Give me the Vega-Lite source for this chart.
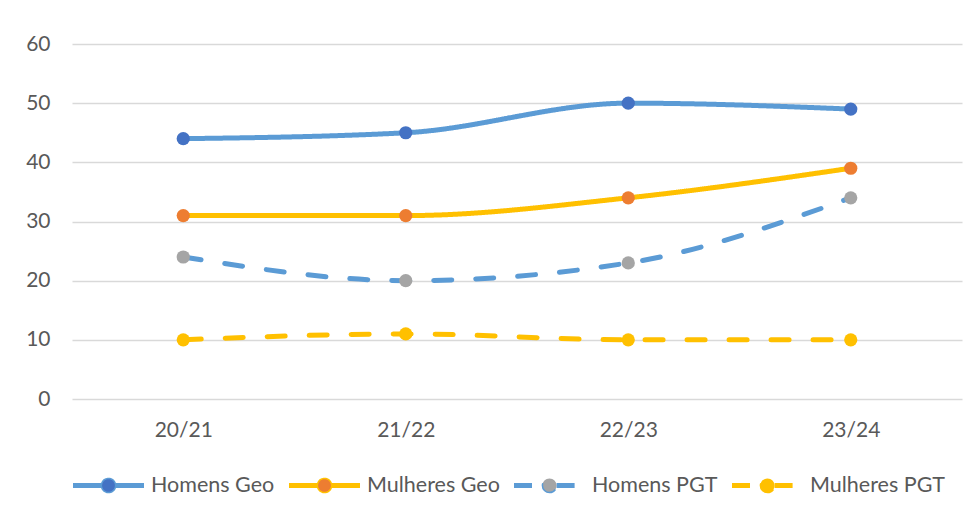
{
  "$schema": "https://vega.github.io/schema/vega-lite/v6.json",
  "autosize": {"type": "none"},
  "padding": {"left": 72, "top": 44, "right": 15, "bottom": 114},
  "width": 890,
  "height": 355,
  "background": "white",
  "data": {
    "values": [
      {"period": "20/21", "series": "Homens Geo", "value": 44},
      {"period": "21/22", "series": "Homens Geo", "value": 45},
      {"period": "22/23", "series": "Homens Geo", "value": 50},
      {"period": "23/24", "series": "Homens Geo", "value": 49},
      {"period": "20/21", "series": "Mulheres Geo", "value": 31},
      {"period": "21/22", "series": "Mulheres Geo", "value": 31},
      {"period": "22/23", "series": "Mulheres Geo", "value": 34},
      {"period": "23/24", "series": "Mulheres Geo", "value": 39},
      {"period": "20/21", "series": "Homens PGT", "value": 24},
      {"period": "21/22", "series": "Homens PGT", "value": 20},
      {"period": "22/23", "series": "Homens PGT", "value": 23},
      {"period": "23/24", "series": "Homens PGT", "value": 34},
      {"period": "20/21", "series": "Mulheres PGT", "value": 10},
      {"period": "21/22", "series": "Mulheres PGT", "value": 11},
      {"period": "22/23", "series": "Mulheres PGT", "value": 10},
      {"period": "23/24", "series": "Mulheres PGT", "value": 10}
    ]
  },
  "encoding": {
    "x": {
      "field": "period",
      "type": "ordinal",
      "sort": ["20/21", "21/22", "22/23", "23/24"],
      "scale": {"type": "point", "padding": 0.5},
      "axis": {
        "title": null,
        "domain": false,
        "ticks": false,
        "grid": false,
        "labelAngle": 0,
        "labelPadding": 20,
        "labelFont": "Lato",
        "labelFontSize": 21,
        "labelColor": "#595959"
      }
    },
    "y": {
      "field": "value",
      "type": "quantitative",
      "scale": {"domain": [0, 60], "nice": false},
      "axis": {
        "title": null,
        "values": [0, 10, 20, 30, 40, 50, 60],
        "domain": false,
        "ticks": false,
        "gridColor": "#d9d9d9",
        "gridWidth": 1.6,
        "labelPadding": 22,
        "labelFont": "Lato",
        "labelFontSize": 21,
        "labelColor": "#595959"
      }
    }
  },
  "layer": [
    {
      "mark": {
        "type": "line",
        "interpolate": "monotone",
        "strokeWidth": 5,
        "strokeCap": "round"
      },
      "encoding": {
        "stroke": {
          "field": "series",
          "type": "nominal",
          "scale": {
            "domain": ["Homens Geo", "Mulheres Geo", "Homens PGT", "Mulheres PGT"],
            "range": ["#5B9BD5", "#FFC000", "#5B9BD5", "#FFC000"]
          },
          "legend": {
            "title": null,
            "orient": "bottom",
            "direction": "horizontal",
            "symbolType": "M-1,-0.05L-0.2,-0.05M-1,-0.017L-0.2,-0.017M-1,0.017L-0.2,0.017M-1,0.05L-0.2,0.05M0.2,-0.05L1,-0.05M0.2,-0.017L1,-0.017M0.2,0.017L1,0.017M0.2,0.05L1,0.05M-0.2,0A0.2,0.2 0 1,0 0.2,0A0.2,0.2 0 1,0 -0.2,0Z",
            "symbolSize": 5041,
            "symbolStrokeWidth": 1.5,
            "labelFont": "Lato",
            "labelFontSize": 21.5,
            "labelColor": "#595959",
            "labelOffset": 6,
            "columnPadding": 11,
            "offset": 9
          }
        },
        "strokeDash": {
          "field": "series",
          "type": "nominal",
          "scale": {
            "domain": ["Homens Geo", "Mulheres Geo", "Homens PGT", "Mulheres PGT"],
            "range": [[1, 0], [1, 0], [18, 24], [18, 24]]
          },
          "legend": null
        }
      }
    },
    {
      "mark": {"type": "circle", "size": 175, "opacity": 1},
      "encoding": {
        "fill": {
          "field": "series",
          "type": "nominal",
          "scale": {
            "domain": ["Homens Geo", "Mulheres Geo", "Homens PGT", "Mulheres PGT"],
            "range": ["#4472C4", "#ED7D31", "#A5A5A5", "#FFC000"]
          },
          "legend": {
            "title": null,
            "orient": "bottom",
            "direction": "horizontal",
            "symbolType": "M-1,-0.05L-0.2,-0.05M-1,-0.017L-0.2,-0.017M-1,0.017L-0.2,0.017M-1,0.05L-0.2,0.05M0.2,-0.05L1,-0.05M0.2,-0.017L1,-0.017M0.2,0.017L1,0.017M0.2,0.05L1,0.05M-0.2,0A0.2,0.2 0 1,0 0.2,0A0.2,0.2 0 1,0 -0.2,0Z",
            "symbolSize": 5041,
            "symbolStrokeWidth": 1.5,
            "labelFont": "Lato",
            "labelFontSize": 21.5,
            "labelColor": "#595959",
            "labelOffset": 6,
            "columnPadding": 11,
            "offset": 9
          }
        }
      }
    }
  ],
  "config": {
    "view": {"stroke": null}
  }
}
